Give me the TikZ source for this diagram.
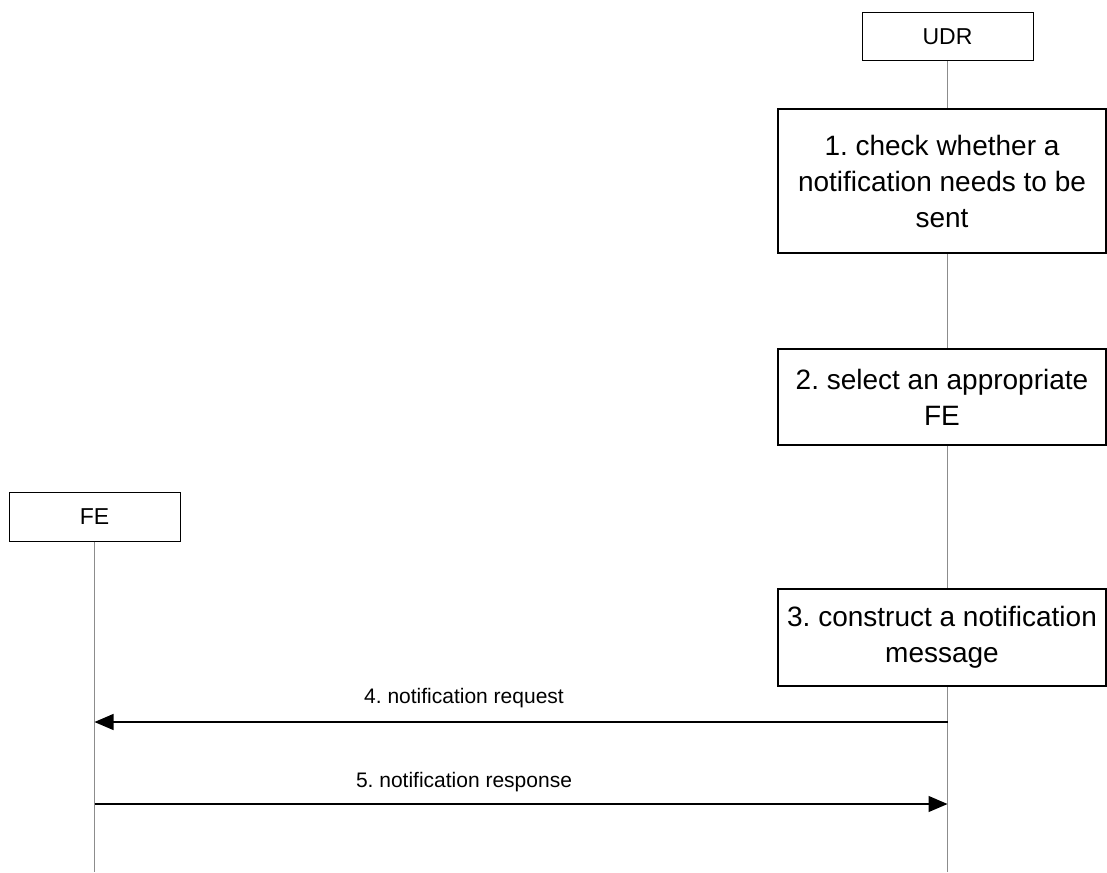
\documentclass[tikz,border=0pt]{standalone}
\usepackage{fontspec}
\setmainfont{Liberation Sans}
\usetikzlibrary{arrows.meta}
\frenchspacing
\begin{document}
\begin{tikzpicture}[x=1pt,y=-1pt,
  actor/.style={draw,line width=1pt,fill=white,minimum width=171pt,minimum height=48pt,inner sep=0pt,font=\fontsize{23}{27}\selectfont},
  stepbox/.style={draw,line width=1.2pt,fill=white,minimum width=328pt,inner sep=0pt,align=center,font=\fontsize{28}{36}\selectfont},
  life/.style={draw=black!45,line width=0.8pt},
  msg/.style={line width=1.2pt,-{Triangle[length=19pt,width=16pt]}},
  lbl/.style={font=\fontsize{21}{25}\selectfont,anchor=base}]
\useasboundingbox (0,0) rectangle (1107,872);
% participants
\node[actor] (udr) at (947.5,37) {UDR};
\node[actor,minimum height=49pt] (fe) at (94.5,516.5) {FE};
% lifelines
\coordinate (udrend) at (947.5,872);
\coordinate (feend) at (94.5,872);
\draw[life] (udr.south) -- (udrend);
\draw[life] (fe.south) -- (feend);
% steps
\node[stepbox,minimum height=144pt] (s1) at (942,181) {1. check whether a\\notification needs to be\\sent};
\node[stepbox,minimum height=96pt] (s2) at (942,397) {2. select an appropriate\\FE};
\node[stepbox,minimum height=97pt] (s3) at (942,637.5) {3. construct a notification\\message};
% messages
\coordinate (m4s) at (947.5,722);
\coordinate (m4e) at (94.5,722);
\coordinate (m5s) at (94.5,804);
\coordinate (m5e) at (947.5,804);
\draw[msg] (m4s) -- (m4e);
\draw[msg] (m5s) -- (m5e);
\node[lbl] (l4) at (464,703) {4. notification request};
\node[lbl] (l5) at (464,787) {5. notification response};
\end{tikzpicture}
\end{document}
